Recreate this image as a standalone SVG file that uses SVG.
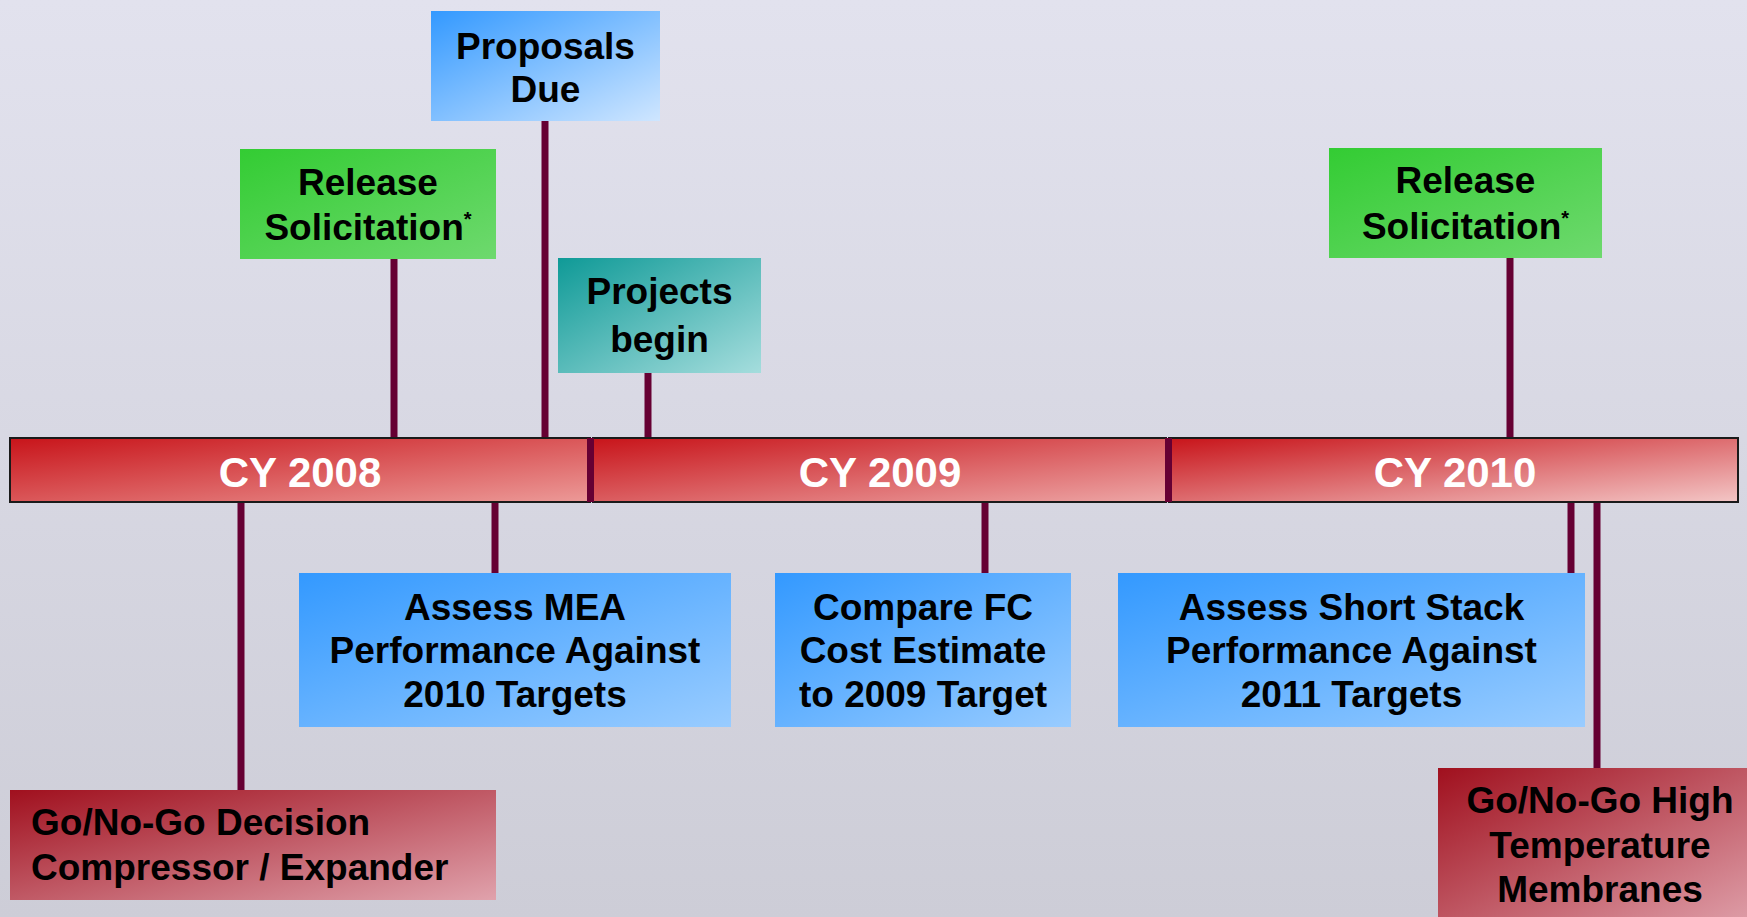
<svg xmlns="http://www.w3.org/2000/svg" width="1747" height="917" viewBox="0 0 1747 917">
<style>
text{font-family:"Liberation Sans",Arial,sans-serif;font-weight:bold;fill:#000;}
.c{text-anchor:middle;font-size:37px;}
.l{font-size:37px;}
.cy{text-anchor:middle;font-size:42px;fill:#fff;}
.sup{font-size:20px;}
.conn line{stroke:#660033;stroke-width:7;}
.seg{stroke:#1a1a1a;stroke-width:2;}
.div{fill:#660033;}
</style>
<defs>
<linearGradient id="bg" x1="0" y1="0" x2="0" y2="1"><stop offset="0" stop-color="#e2e2ee"/><stop offset="1" stop-color="#cdcdd7"/></linearGradient>
<linearGradient id="r1" x1="0" y1="0" x2="1" y2="1"><stop offset="0" stop-color="#c8141a"/><stop offset="1" stop-color="#ec9a98"/></linearGradient>
<linearGradient id="r2" x1="0" y1="0" x2="1" y2="1"><stop offset="0" stop-color="#c8141a"/><stop offset="1" stop-color="#eda6a6"/></linearGradient>
<linearGradient id="r3" x1="0" y1="0" x2="1" y2="1"><stop offset="0" stop-color="#c8141a"/><stop offset="1" stop-color="#f3c6c6"/></linearGradient>
<linearGradient id="green" x1="0" y1="0" x2="1" y2="1"><stop offset="0" stop-color="#33cc33"/><stop offset="1" stop-color="#6ed96e"/></linearGradient>
<linearGradient id="blue" x1="0" y1="0" x2="1" y2="1"><stop offset="0" stop-color="#3399ff"/><stop offset="1" stop-color="#99ccff"/></linearGradient>
<linearGradient id="lblue" x1="0" y1="0" x2="1" y2="1"><stop offset="0" stop-color="#3399ff"/><stop offset="1" stop-color="#cfe6ff"/></linearGradient>
<linearGradient id="teal" x1="0" y1="0" x2="1" y2="1"><stop offset="0" stop-color="#0f9a97"/><stop offset="1" stop-color="#a5dddd"/></linearGradient>
<linearGradient id="red" x1="0" y1="0" x2="1" y2="1"><stop offset="0" stop-color="#a0101e"/><stop offset="1" stop-color="#e0a2ac"/></linearGradient>
</defs>
<rect x="0" y="0" width="1747" height="917" fill="url(#bg)"/>

<g id="connectors" class="conn">
<line x1="394" y1="259" x2="394" y2="438"/>
<line x1="545" y1="121" x2="545" y2="438"/>
<line x1="648" y1="373" x2="648" y2="438"/>
<line x1="1510" y1="258" x2="1510" y2="438"/>
<line x1="241" y1="502" x2="241" y2="790"/>
<line x1="495" y1="502" x2="495" y2="573"/>
<line x1="985" y1="502" x2="985" y2="573"/>
<line x1="1571" y1="502" x2="1571" y2="573"/>
<line x1="1597" y1="502" x2="1597" y2="768"/>
</g>

<g id="timeline">
<g id="cy2008">
<rect class="seg" x="10" y="438" width="580" height="64" fill="url(#r1)"/>
<text class="cy" x="300" y="487">CY 2008</text>
</g>
<g id="cy2009">
<rect class="seg" x="593" y="438" width="573" height="64" fill="url(#r2)"/>
<text class="cy" x="880" y="487">CY 2009</text>
</g>
<g id="cy2010">
<rect class="seg" x="1169" y="438" width="569" height="64" fill="url(#r3)"/>
<text class="cy" x="1455" y="487">CY 2010</text>
</g>
<rect class="div" x="587" y="438" width="7" height="64"/>
<rect class="div" x="1165" y="438" width="7" height="64"/>
</g>

<g id="proposals-due">
<rect x="431" y="11" width="229" height="110" fill="url(#lblue)"/>
<text class="c" x="545.5" y="59">Proposals</text>
<text class="c" x="545.5" y="102">Due</text>
</g>

<g id="release-solicitation-2008">
<rect x="240" y="149" width="256" height="110" fill="url(#green)"/>
<text class="c" x="368" y="195">Release</text>
<text class="c" x="368" y="240">Solicitation<tspan class="sup" dy="-14">*</tspan></text>
</g>

<g id="projects-begin">
<rect x="558" y="258" width="203" height="115" fill="url(#teal)"/>
<text class="c" x="659.5" y="304">Projects</text>
<text class="c" x="659.5" y="352">begin</text>
</g>

<g id="release-solicitation-2010">
<rect x="1329" y="148" width="273" height="110" fill="url(#green)"/>
<text class="c" x="1465.5" y="193">Release</text>
<text class="c" x="1465.5" y="239">Solicitation<tspan class="sup" dy="-14">*</tspan></text>
</g>

<g id="go-no-go-compressor">
<rect x="10" y="790" width="486" height="110" fill="url(#red)"/>
<text class="l" x="31" y="835">Go/No-Go Decision</text>
<text class="l" x="31" y="880">Compressor / Expander</text>
</g>

<g id="assess-mea">
<rect x="299" y="573" width="432" height="154" fill="url(#blue)"/>
<text class="c" x="515" y="620">Assess MEA</text>
<text class="c" x="515" y="663">Performance Against</text>
<text class="c" x="515" y="707">2010 Targets</text>
</g>

<g id="compare-fc">
<rect x="775" y="573" width="296" height="154" fill="url(#blue)"/>
<text class="c" x="923" y="620">Compare FC</text>
<text class="c" x="923" y="663">Cost Estimate</text>
<text class="c" x="923" y="707">to 2009 Target</text>
</g>

<g id="assess-short-stack">
<rect x="1118" y="573" width="467" height="154" fill="url(#blue)"/>
<text class="c" x="1351.5" y="620">Assess Short Stack</text>
<text class="c" x="1351.5" y="663">Performance Against</text>
<text class="c" x="1351.5" y="707">2011 Targets</text>
</g>

<g id="go-no-go-htm">
<rect x="1438" y="768" width="320" height="160" fill="url(#red)"/>
<text class="c" x="1600" y="813">Go/No-Go High</text>
<text class="c" x="1600" y="858">Temperature</text>
<text class="c" x="1600" y="902">Membranes</text>
</g>
</svg>
